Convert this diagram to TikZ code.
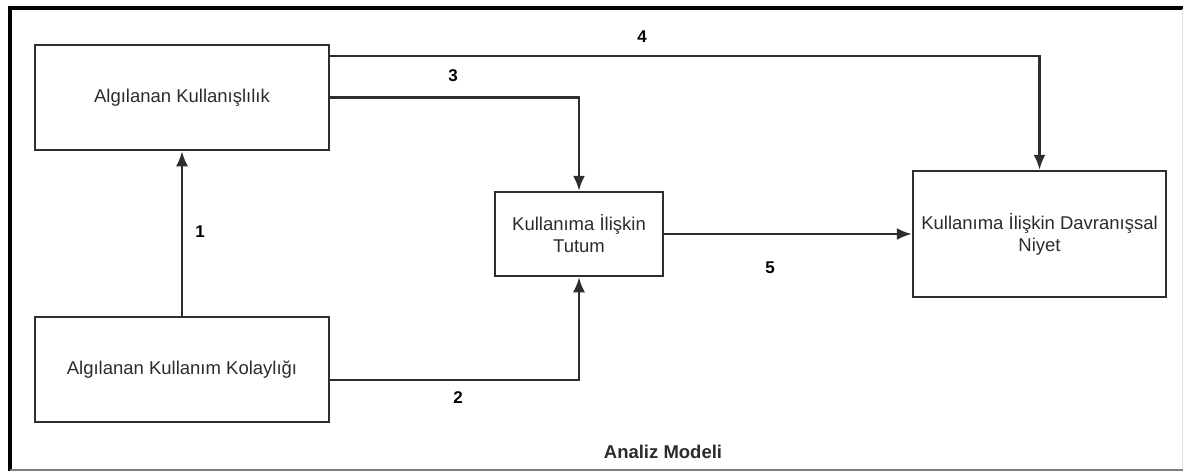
\documentclass[tikz,border=0pt]{standalone}
\usepackage{fontspec}
\setmainfont{Liberation Sans}
\usetikzlibrary{arrows.meta}
\definecolor{ink}{HTML}{2B2B2B}
\definecolor{edge}{HTML}{2E2E2E}
\tikzset{
  box/.style={draw=edge, line width=2.5pt, rectangle, align=center, text=ink,
              font=\fontsize{18.5}{22}\selectfont, inner sep=2pt},
  link/.style={draw=edge, line width=2.2pt,
               -{Latex[length=15pt,width=12pt]}},
  num/.style={font=\fontsize{17}{20}\selectfont\bfseries, text=black},
}
\begin{document}
\begin{tikzpicture}[x=1pt, y=-1pt]
  \useasboundingbox (0,0) rectangle (1183,471);
  % frame
  \draw[line width=3.5pt, black] (10,471) -- (10,8) -- (1183,8);
  \draw[line width=1.8pt, gray] (10,469.8) -- (1183,469.8);
  \draw[line width=0.8pt, black!12] (1182,9) -- (1182,469);

  % boxes
  \node[box, minimum width=294pt, minimum height=105pt] (A) at (182,97.5)
       {Algılanan Kullanışlılık};
  \node[box, minimum width=294pt, minimum height=105pt] (B) at (182,369.5)
       {Algılanan Kullanım Kolaylığı};
  \node[box, minimum width=168pt, minimum height=84pt] (C) at (579,234)
       {Kullanıma İlişkin\\Tutum};
  \node[box, minimum width=253pt, minimum height=126pt] (D) at (1039.5,234)
       {Kullanıma İlişkin Davranışsal\\Niyet};

  % connectors
  \draw[link] (B.north) -- (A.south);
  \draw[link] ([yshift=-10.5pt]B.east) -| (C.south);
  \draw[link] (A.east) -| (C.north);
  \draw[link] ([yshift=-12pt]A.north east) -| (D.north);
  \draw[link] (C.east) -- (D.west);

  % labels
  \node[num] (n1) at (200,232) {1};
  \node[num] (n2) at (458,398) {2};
  \node[num] (n3) at (453,76) {3};
  \node[num] (n4) at (642,37) {4};
  \node[num] (n5) at (770,268) {5};
  \node[font=\fontsize{18.5}{22}\selectfont\bfseries, text=ink] (title) at (663,452)
       {Analiz Modeli};
\end{tikzpicture}
\end{document}
